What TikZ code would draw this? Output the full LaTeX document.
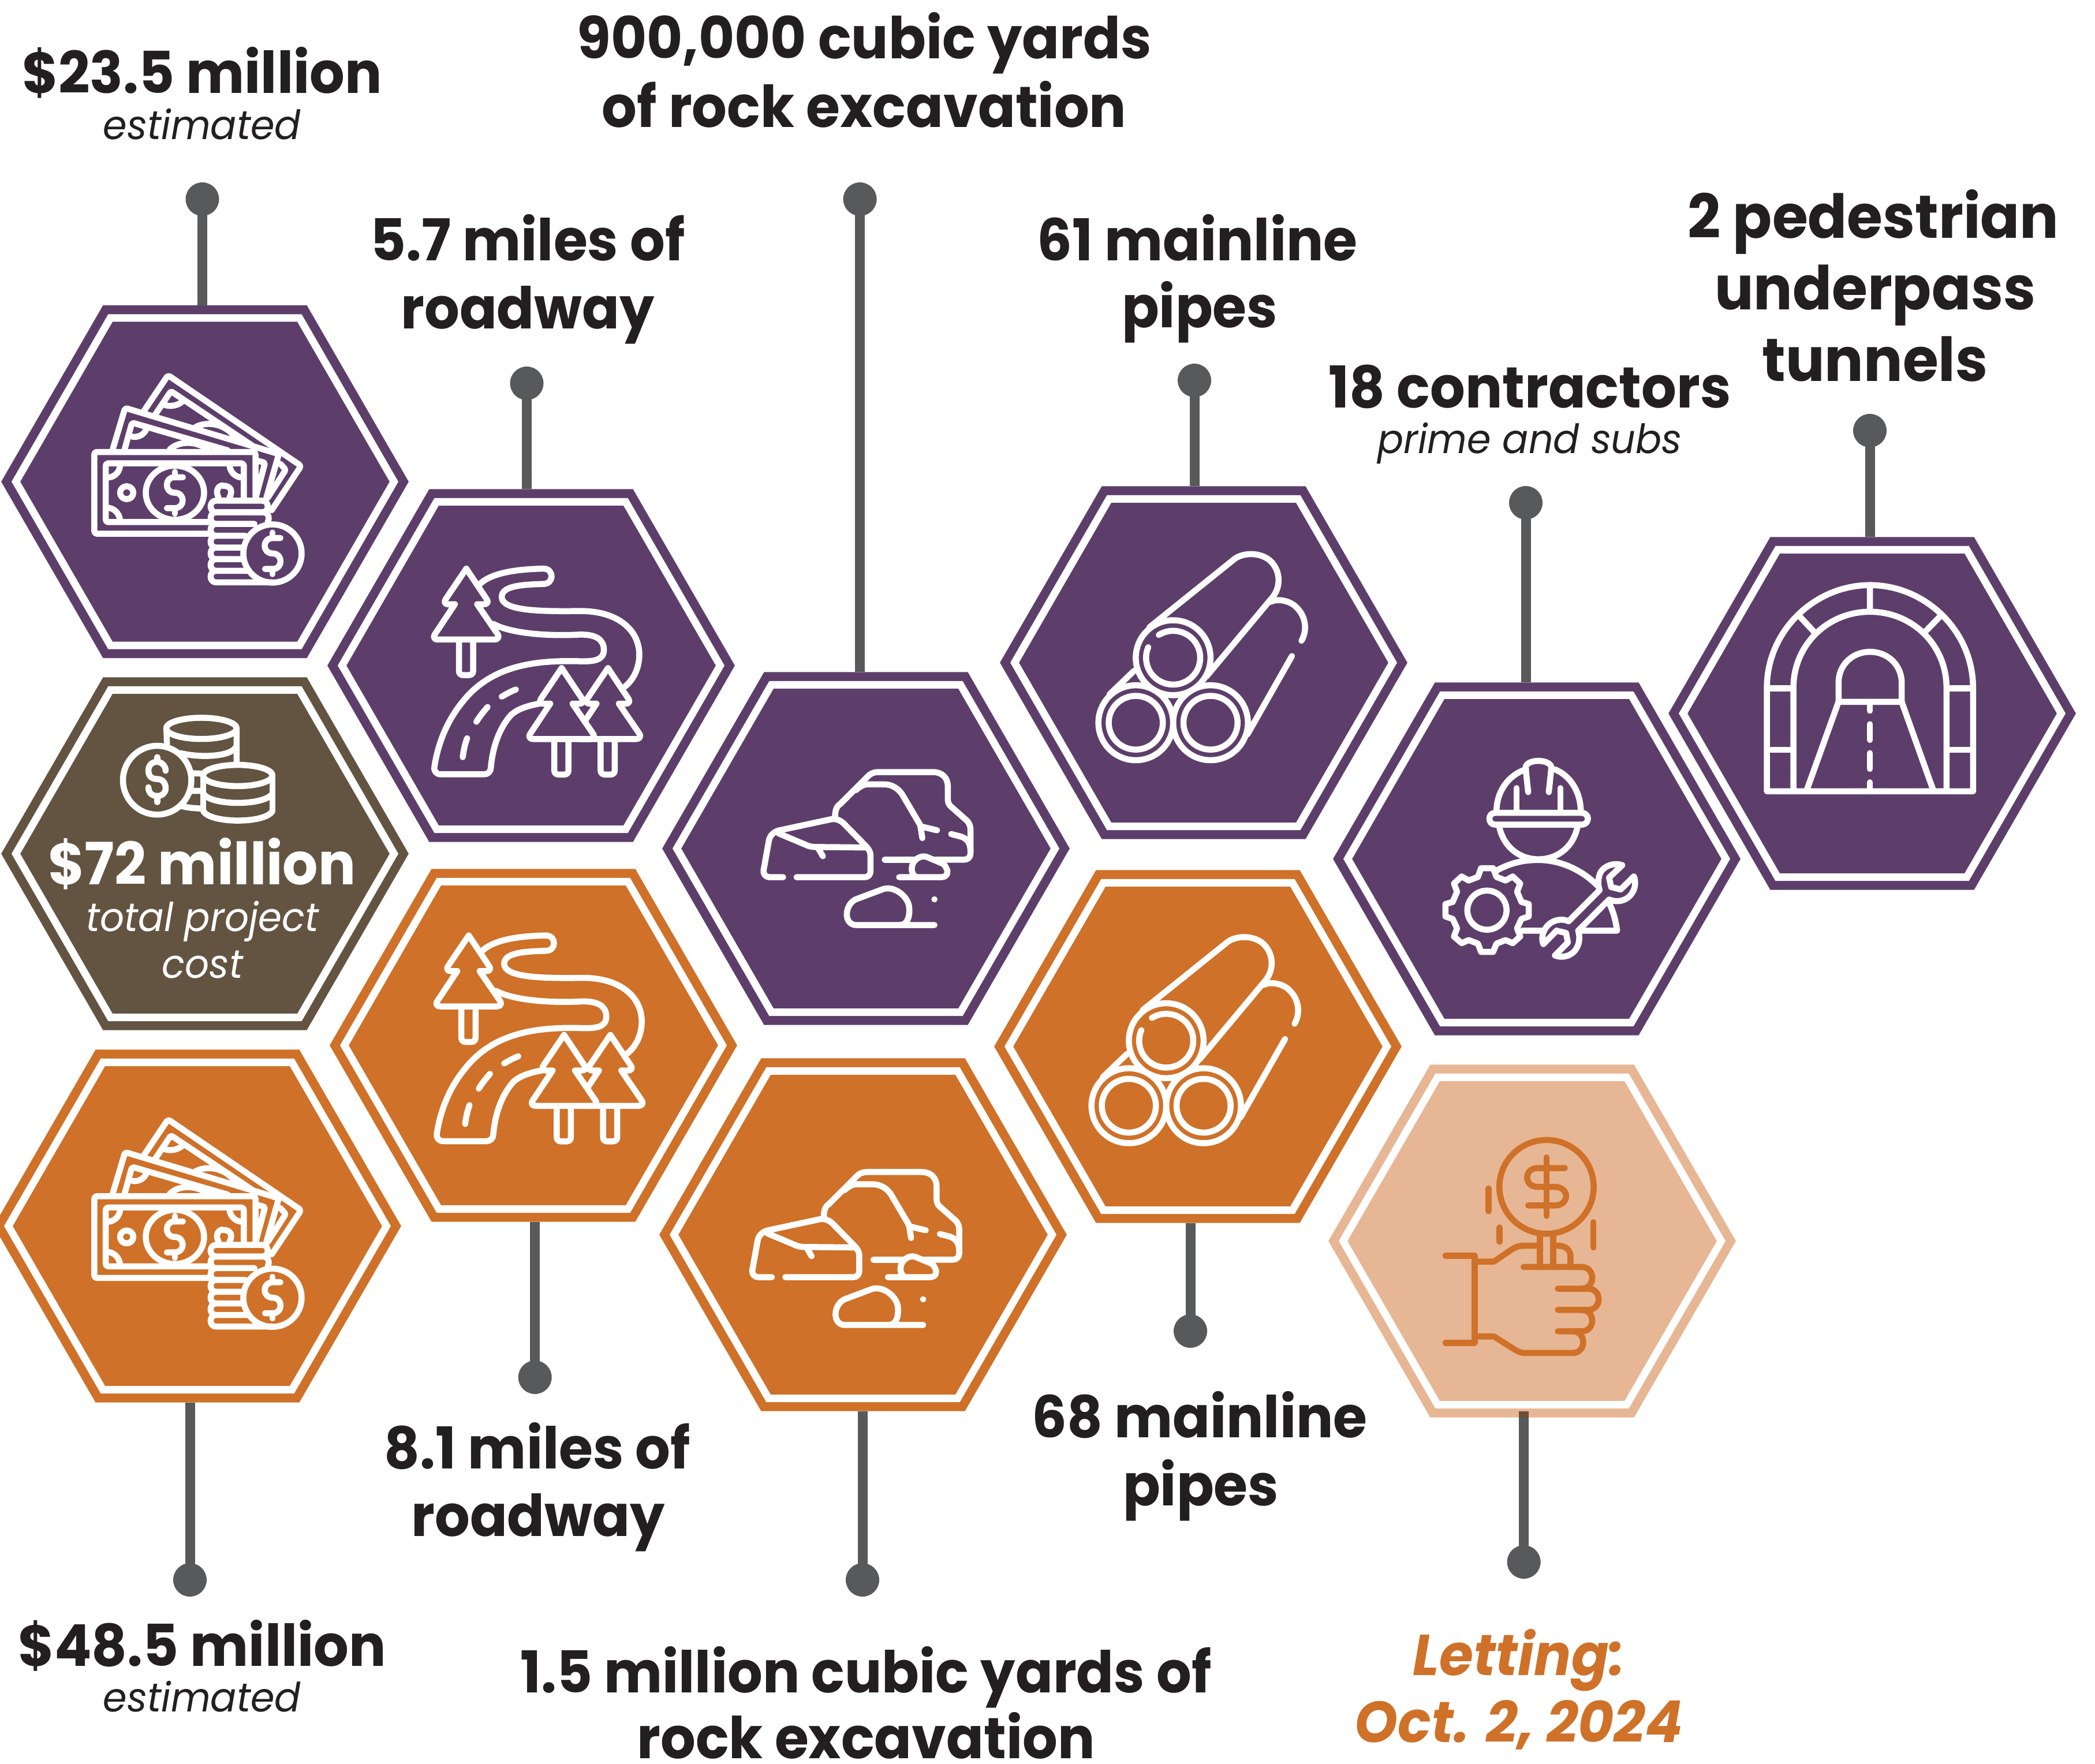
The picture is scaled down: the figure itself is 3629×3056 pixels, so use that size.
\documentclass[tikz,border=0pt]{standalone}
\usepackage{fontspec}
\setmainfont{Poppins}[FakeStretch=0.955]
\usetikzlibrary{shapes.geometric}
\definecolor{purp}{HTML}{5D3E6B}
\definecolor{orng}{HTML}{CF7128}
\definecolor{brwn}{HTML}{635442}
\definecolor{lite}{HTML}{E7B694}
\definecolor{gry}{HTML}{58595B}
\definecolor{ink}{HTML}{231F20}
\tikzset{
 hexa/.style={regular polygon,regular polygon sides=6,minimum size=655pt,inner sep=0pt,outer sep=0pt,
   draw=#1,fill=#1,line width=15.5pt,double=white,double distance=13pt},
 dotn/.style={circle,fill=gry,minimum size=58pt,inner sep=0pt,outer sep=0pt},
 conn/.style={draw=gry,line width=17pt,shorten >=22pt},
 big/.style={font=\fontsize{100}{120}\selectfont\bfseries,text=ink,anchor=base,inner sep=0pt},
 bigf/.style={font=\fontsize{105}{120}\selectfont\bfseries,text=ink,anchor=base,inner sep=0pt},
 bigw/.style={font=\fontsize{101}{120}\selectfont\bfseries,text=white,anchor=base,inner sep=0pt},
 sub/.style={font=\fontsize{70}{80}\selectfont\itshape,text=ink,anchor=base,inner sep=0pt},
 subw/.style={font=\fontsize{69}{80}\selectfont\itshape,text=white,anchor=base,inner sep=0pt},
 let/.style={font=\fontsize{100}{120}\selectfont\bfseries\itshape,text=orng,anchor=base,inner sep=0pt},
 ico/.style={line width=10.5pt,line cap=round,line join=round},
}
\newcommand\iconmoney{%
 \draw[ico,rounded corners=4pt] (790,951)--(356,951)--(356,634)--(964,634)--(964,815);
 \draw[ico,rounded corners=4pt] (790,906)--(399,906)--(399,678)--(920,678)--(920,815);
 \draw[ico] (660,792) ellipse [x radius=110,y radius=105];
 \draw[ico] (690,732)--(658,732) .. controls (620,732) and (620,792) .. (658,792) .. controls (700,792) and (700,852) .. (658,852)--(630,852);
 \draw[ico] (660,711)--(660,732) (660,852)--(660,873);
 \draw[ico] (453,688) .. controls (450,715) and (430,733) .. (405,733);
 \draw[ico] (405,850) .. controls (430,852) and (450,870) .. (453,900);
 \draw[ico] (866,688) .. controls (870,715) and (890,733) .. (915,733);
 \draw[ico] (478,792) ellipse [x radius=25,y radius=25];
 \draw[ico] (825,812) .. controls (805,770) and (840,760) .. (842,765) .. controls (875,765) and (878,790) .. (865,812);
 \draw[ico,rounded corners=4pt] (425,625)--(472,463)--(1052,642)--(1005,812);
 \draw[ico,rounded corners=4pt] (470,625)--(498,520)--(860,628);
 \draw[ico,rounded corners=3pt] (972,668)--(1000,676)--(965,810);
 \draw[ico] (500,575) .. controls (525,578) and (545,565) .. (552,545);
 \draw[ico] (640,625) .. controls (675,590) and (740,590) .. (785,625);
 \draw[ico,rounded corners=4pt] (543,475)--(634,336)--(1136,688)--(1025,860);
 \draw[ico,rounded corners=3pt] (585,490)--(645,398)--(960,615);
 \draw[ico,rounded corners=3pt] (1058,680)--(1078,703)--(1010,812);
 \draw[ico] (618,450) .. controls (640,460) and (670,455) .. (690,437);
 \draw[ico] (738,537) .. controls (790,510) and (860,530) .. (892,585);
 \draw[ico] (990,823)--(815,823) .. controls (788,823) and (788,868) .. (815,868)--(990,868) .. controls (1017,868) and (1017,823) .. (990,823);
 \draw[ico] (990,868)--(815,868) .. controls (788,868) and (788,913) .. (815,913)--(960,913);
 \draw[ico] (990,868) .. controls (1017,868) and (1017,895) .. (1010,905);
 \draw[ico] (815,913) .. controls (788,913) and (788,959) .. (815,959)--(925,959);
 \draw[ico] (815,959) .. controls (788,959) and (788,1005) .. (815,1005)--(912,1005);
 \draw[ico] (815,1005) .. controls (788,1005) and (788,1050) .. (815,1050)--(915,1050);
 \draw[ico] (815,1050) .. controls (788,1050) and (788,1095) .. (815,1095)--(940,1095);
 \draw[ico] (815,1095) .. controls (788,1095) and (788,1140) .. (815,1140)--(1028,1140);
 \draw[ico] (1028,1028) ellipse [x radius=110,y radius=113];
 \draw[ico] (1058,968)--(1030,968) .. controls (988,968) and (988,1028) .. (1030,1028) .. controls (1068,1028) and (1068,1088) .. (1030,1088)--(1000,1088);
 \draw[ico] (1028,947)--(1028,968) (1028,1088)--(1028,1108);
}
\newcommand\treeshape[1]{%
 \begin{scope}[shift={#1}]
 \draw[ico,fill=\ib] (498,690)--(498,815) .. controls (498,826) and (505,832) .. (515,832)--(533,832) .. controls (543,832) and (550,826) .. (550,815)--(550,690);
 \draw[ico,fill=\ib] (525,380)--(600,510) .. controls (608,525) and (600,531) .. (590,531)--(565,531)--(640,658) .. controls (648,672) and (640,681) .. (628,681)--(420,681) .. controls (408,681) and (402,672) .. (410,658)--(483,531)--(458,531) .. controls (448,531) and (442,525) .. (449,510)--cycle;
 \end{scope}}
\newcommand\iconroad{%
 \draw[ico] (575,445) .. controls (620,395) and (720,382) .. (808,380) .. controls (848,380) and (848,445) .. (808,445) .. controls (740,448) and (655,450) .. (655,500) .. controls (655,560) and (800,562) .. (940,560) .. controls (1080,558) and (1160,640) .. (1160,745) .. controls (1160,800) and (1140,850) .. (1108,880);
 \draw[ico] (625,615) .. controls (680,650) and (800,668) .. (940,660) .. controls (1000,658) and (1030,680) .. (1030,725) .. controls (1030,770) and (990,775) .. (940,773) .. controls (780,768) and (620,790) .. (515,940) .. controls (450,1030) and (420,1130) .. (408,1220) .. controls (405,1240) and (415,1253) .. (432,1253)--(590,1253) .. controls (605,1253) and (615,1240) .. (615,1225) .. controls (622,1130) and (650,1050) .. (690,1000) .. controls (720,970) and (760,960) .. (805,950);
 \draw[ico] (655,923) .. controls (672,912) and (690,900) .. (707,893);
 \draw[ico] (562,1030) .. controls (575,1005) and (590,985) .. (603,967);
 \draw[ico] (512,1180) .. controls (515,1150) and (520,1125) .. (528,1100);
 \treeshape{(0,0)}\treeshape{(520,422)}\treeshape{(350,422)}
}
\newcommand\iconrocks{%
 \draw[ico] (620,630) .. controls (618,600) and (625,580) .. (640,570)--(745,455) .. controls (755,442) and (770,435) .. (785,435)--(1000,435) .. controls (1035,435) and (1057,460) .. (1057,495)--(1057,550) .. controls (1057,565) and (1062,575) .. (1070,582)--(1130,640) .. controls (1140,650) and (1145,665) .. (1145,680)--(1145,780) .. controls (1145,795) and (1135,807) .. (1120,807)--(1005,807);
 \draw[ico] (700,512) .. controls (715,497) and (730,487) .. (745,487)--(810,487) .. controls (840,487) and (865,505) .. (880,530)--(950,660)--(958,715);
 \draw[ico] (950,665)--(1015,682) (1070,698)--(1105,708) .. controls (1130,715) and (1145,735) .. (1145,770);
 \draw[ico] (812,807)--(930,807);
 \draw[ico] (418,881)--(365,881) .. controls (350,881) and (340,868) .. (342,852)--(362,730) .. controls (365,705) and (380,690) .. (400,683)--(605,635) .. controls (625,632) and (640,640) .. (652,652)--(740,750) .. controls (752,765) and (757,775) .. (757,790)--(757,855) .. controls (757,870) and (748,881) .. (735,881)--(470,881);
 \draw[ico] (400,695)--(515,748) .. controls (530,753) and (540,753) .. (555,753)--(740,755) (555,760)--(572,792);
 \draw[ico] (868,881)--(1030,881) .. controls (1055,881) and (1060,860) .. (1052,845) .. controls (1048,835) and (1045,830) .. (1040,825)--(975,795) .. controls (950,785) and (917,810) .. (917,845) .. controls (917,865) and (925,880) .. (940,881);
 \draw[ico] (1005,1084)--(700,1084) .. controls (680,1084) and (665,1065) .. (665,1040) .. controls (665,1010) and (680,985) .. (700,975)--(805,932) .. controls (850,915) and (905,965) .. (907,1010) .. controls (910,1050) and (900,1084) .. (870,1084);
 \fill[white] (1005,975) ellipse [x radius=12,y radius=13];
}
\newcommand\iconpipes{%
 \draw[ico] (540,580)--(870,290) .. controls (900,265) and (960,260) .. (1000,290) .. controls (1050,330) and (1055,410) .. (1012,460)--(760,790);
 \draw[ico] (385,865)--(480,765);
 \draw[ico] (1010,472) .. controls (1040,455) and (1090,470) .. (1110,495) .. controls (1145,530) and (1155,590) .. (1130,637);
 \draw[ico] (1093,702)--(920,1035);
 \draw[ico] (632,709) ellipse [x radius=145,y radius=159];
 \draw[ico] (487,985) ellipse [x radius=145,y radius=159];
 \draw[ico] (777,985) ellipse [x radius=145,y radius=159];
 \draw[ico] (487,985) ellipse [x radius=105,y radius=114];
 \draw[ico] (777,985) ellipse [x radius=105,y radius=114];
 \draw[ico] plot[domain=238:563,samples=50,smooth] ({632+105*cos(\x)},{709+114*sin(\x)});
}
\newcommand\iconworker{%
 \draw[ico] (565,505) .. controls (565,420) and (610,350) .. (680,325) (790,325) .. controls (850,350) and (892,420) .. (892,505);
 \draw[ico] (688,422)--(678,318) .. controls (680,280) and (775,280) .. (778,318)--(768,422);
 \draw[ico] (643,405)--(643,505) (813,405)--(813,505);
 \draw[ico] (560,510)--(895,510) .. controls (928,510) and (928,560) .. (895,560)--(560,560) .. controls (530,560) and (530,510) .. (560,510)--cycle;
 \draw[ico] (575,565) .. controls (590,650) and (650,707) .. (728,707) .. controls (806,707) and (866,650) .. (880,565);
 \draw[ico] (565,755) .. controls (620,722) and (670,710) .. (728,710) .. controls (810,710) and (895,750) .. (958,820);
 \draw[ico] (665,1010)--(745,1010) (895,1010)--(1033,1010) .. controls (1028,970) and (1020,935) .. (1005,900);
 \draw[ico] (528,923) ellipse [x radius=76,y radius=83];
 \draw[ico] (505,745)--(552,745)--(565,782)--(600,797)--(628,780)--(657,810)--(645,845)--(662,888)--(690,897)--(690,950)--(662,960)--(645,1000)--(657,1035)--(628,1063)--(600,1050)--(565,1065)--(552,1100)--(505,1100)--(493,1065)--(457,1050)--(430,1063)--(400,1035)--(412,1000)--(395,960)--(367,950)--(367,897)--(395,888)--(412,845)--(400,810)--(430,780)--(457,797)--(493,782)--cycle;
 \draw[ico] (845,970)--(965,838) .. controls (958,815) and (958,785) .. (970,760) .. controls (985,735) and (1020,720) .. (1053,732)--(1002,785)--(1010,825)--(1047,835)--(1098,780) .. controls (1103,790) and (1105,810) .. (1100,830) .. controls (1085,880) and (1040,895) .. (1002,878)--(882,1010) .. controls (888,1030) and (888,1055) .. (880,1075) .. controls (865,1115) and (825,1130) .. (792,1115)--(842,1060)--(835,1020)--(798,1010)--(747,1067) .. controls (742,1055) and (740,1030) .. (750,1010) .. controls (770,965) and (815,955) .. (845,970)--cycle;
}
\newcommand\icontunnel{%
 \draw[ico] (315,1080)--(315,640) .. controls (315,400) and (500,205) .. (715,205) .. controls (930,205) and (1115,400) .. (1115,640)--(1115,1080)--cycle;
 \draw[ico] (418,1080)--(418,640) .. controls (418,460) and (550,318) .. (715,318) .. controls (880,318) and (1012,460) .. (1012,640)--(1012,1080);
 \draw[ico] (715,205)--(715,318) (440,335)--(497,402) (985,340)--(930,402);
 \draw[ico] (315,643)--(418,643) (315,904)--(418,904) (1012,643)--(1115,643) (1012,904)--(1115,904);
 \draw[ico] (593,700)--(593,620) .. controls (593,540) and (650,488) .. (715,488) .. controls (780,488) and (838,540) .. (838,620)--(838,700)--cycle;
 \draw[ico] (593,700)--(468,1080) (838,700)--(962,1080);
 \draw[ico] (715,700)--(715,738) (715,795)--(715,862) (715,918)--(715,985) (715,1042)--(715,1080);
}
\newcommand\iconhand{%
 \draw[ico] (804,505) ellipse [x radius=183,y radius=199];
 \draw[ico] (875,425)--(770,425) .. controls (715,425) and (715,505) .. (770,505)--(835,505) .. controls (895,505) and (895,584) .. (835,584)--(733,584);
 \draw[ico] (804,380)--(804,628);
 \draw[ico] (579,512)--(579,608) (622,677)--(622,738) (986,655)--(986,762);
 \draw[ico] (778,710)--(778,845) (830,710)--(830,845);
 \draw[ico] (770,755)--(715,755) .. controls (695,755) and (685,760) .. (670,770)--(600,822)--(525,822);
 \draw[ico] (830,755)--(850,755) .. controls (880,755) and (897,775) .. (897,800)--(897,845);
 \draw[ico] (412,797)--(525,797)--(525,1167)--(412,1167);
 \draw[ico] (525,1140)--(600,1140)--(680,1195) .. controls (695,1205) and (705,1210) .. (720,1210)--(905,1210) .. controls (960,1210) and (960,1118) .. (905,1118)--(848,1118);
 \draw[ico] (715,845)--(940,845) .. controls (995,845) and (995,937) .. (940,937)--(848,937);
 \draw[ico] (940,937)--(965,937) .. controls (1020,937) and (1020,1027) .. (965,1027)--(848,1027);
 \draw[ico] (940,1027) .. controls (995,1027) and (995,1118) .. (940,1118)--(905,1118);
}
\newcommand\iconcoins{%
 \draw[ico] (760,225) ellipse [x radius=133,y radius=45];
 \draw[ico] (628,225)--(630,295) (893,225)--(893,372);
 \draw[ico] (680,330) .. controls (760,352) and (880,345) .. (893,298);
 \draw[ico] (715,415)--(765,417) (722,490)--(760,490);
 \draw[ico] (685,555) .. controls (710,562) and (740,565) .. (762,565);
 \draw[ico] (897,425) ellipse [x radius=131,y radius=45];
 \draw[ico] (767,425)--(767,575) (1028,425)--(1028,575);
 \draw[ico] (767,500) .. controls (790,555) and (1005,555) .. (1028,500);
 \draw[ico] (767,575) .. controls (790,630) and (1005,630) .. (1028,575);
 \draw[ico,fill=\ib] (593,445) ellipse [x radius=129,y radius=146];
 \draw[ico] (625,405) .. controls (625,380) and (606,367) .. (593,367) .. controls (570,367) and (560,385) .. (560,405) .. controls (560,430) and (575,440) .. (593,440) .. controls (612,440) and (625,455) .. (625,480) .. controls (625,500) and (610,512) .. (593,512) .. controls (575,512) and (560,500) .. (560,475);
 \draw[ico] (593,347)--(593,367) (593,512)--(593,538);
}
\begin{document}
\begin{tikzpicture}[x=1pt,y=-1pt]
\useasboundingbox (0,0) rectangle (3629,3056);
\fill[white] (0,0) rectangle (3629,3056);
% hexagons
\node[hexa=purp] (hA) at (355,834.5) {};
\node[hexa=purp] (hB) at (920,1153) {};
\node[hexa=purp] (hC) at (1500,1470) {};
\node[hexa=purp] (hD) at (2085,1148) {};
\node[hexa=purp] (hE) at (2662,1488) {};
\node[hexa=purp] (hF) at (3243,1236) {};
\node[hexa=brwn] (hG) at (355,1479) {};
\node[hexa=orng] (hH) at (342,2124) {};
\node[hexa=orng] (hI) at (924,1811) {};
\node[hexa=orng] (hJ) at (1495,2139) {};
\node[hexa=orng] (hK) at (2075,1813) {};
\node[hexa=lite] (hL) at (2654,2150) {};
% dots
\node[dotn] (dA) at (350.5,345) {};
\node[dotn] (dB) at (912.5,664) {};
\node[dotn] (dC) at (1489.6,345) {};
\node[dotn] (dD) at (2069,659) {};
\node[dotn] (dE) at (2643,871) {};
\node[dotn] (dF) at (3239,746) {};
\node[dotn] (dH) at (329,2737) {};
\node[dotn] (dI) at (926.7,2386) {};
\node[dotn] (dJ) at (1494,2737) {};
\node[dotn] (dK) at (2062,2306) {};
\node[dotn] (dL) at (2639.6,2706) {};
% connectors
\draw[conn] (dA.center) -- (dA.center |- hA.north);
\draw[conn] (dB.center) -- (dB.center |- hB.north);
\draw[conn] (dC.center) -- (dC.center |- hC.north);
\draw[conn] (dD.center) -- (dD.center |- hD.north);
\draw[conn] (dE.center) -- (dE.center |- hE.north);
\draw[conn] (dF.center) -- (dF.center |- hF.north);
\draw[conn] (dH.center) -- (dH.center |- hH.south);
\draw[conn] (dI.center) -- (dI.center |- hI.south);
\draw[conn] (dJ.center) -- (dJ.center |- hJ.south);
\draw[conn] (dK.center) -- (dK.center |- hK.south);
\draw[conn] (dL.center) -- (dL.center |- hL.south);
\fill[color=gry!60!orng!80!black] (2631.1,2445) rectangle (2648.1,2456);
% icons
\def\ib{purp}
\begin{scope}[shift={(0,500)},xscale=.4591,yscale=.4464,white]\iconmoney\end{scope}
\begin{scope}[shift={(560,830)},xscale=.4719,yscale=.4082,white]\iconroad\end{scope}
\begin{scope}[shift={(1170,1160)},xscale=.4464,yscale=.4082,white]\iconrocks\end{scope}
\begin{scope}[shift={(1750,850)},xscale=.4464,yscale=.4082,white]\iconpipes\end{scope}
\begin{scope}[shift={(2340,1200)},xscale=.4464,yscale=.4082,white]\iconworker\end{scope}
\begin{scope}[shift={(2920,930)},xscale=.4464,yscale=.4082,white]\icontunnel\end{scope}
\def\ib{brwn}
\begin{scope}[shift={(0,1170)},xscale=.4591,yscale=.4082,white]\iconcoins\end{scope}
\def\ib{orng}
\begin{scope}[shift={(0,1789.3)},xscale=.4591,yscale=.4464,white]\iconmoney\end{scope}
\begin{scope}[shift={(564.2,1465.5)},xscale=.4719,yscale=.4082,white]\iconroad\end{scope}
\begin{scope}[shift={(1150.5,1852.9)},xscale=.4464,yscale=.4082,white]\iconrocks\end{scope}
\begin{scope}[shift={(1738,1513.5)},xscale=.4464,yscale=.4082,white]\iconpipes\end{scope}
\def\ib{lite}
\begin{scope}[shift={(2320,1850)},xscale=.4464,yscale=.4082,orng]\iconhand\end{scope}
% labels
\node[big] (tA) at (350,162) {\$23.5 million};
\node[sub] (tAa) at (350,241) {estimated};
\node[big] (tB) at (914,451) {5.7 miles of};
\node[big] (tBa) at (914,569) {roadway};
\node[big] (tC) at (1497,102) {900,000 cubic yards};
\node[big] (tCa) at (1497,220) {of rock excavation};
\node[big] (tD) at (2074,451) {61 mainline};
\node[big] (tDa) at (2078,567) {pipes};
\node[bigf] (tF) at (3245,412) {2 pedestrian};
\node[bigf] (tFa) at (3248,536) {underpass};
\node[bigf] (tFb) at (3248,660) {tunnels};
\node[big] (tE) at (2650,706) {18 contractors};
\node[sub] (tEa) at (2650,785) {prime and subs};
\node[bigw] (tG) at (350,1532) {\$72 million};
\node[subw] (tGa) at (351,1613) {total project};
\node[subw] (tGb) at (351,1694.5) {cost};
\node[big] (tI) at (931,2544) {8.1 miles of};
\node[big] (tIa) at (932,2661) {roadway};
\node[big] (tH) at (350,2886) {\$48.5 million};
\node[sub] (tHa) at (350,2965) {estimated};
\node[big] (tJ) at (1500,2932) {1.5 million cubic yards of};
\node[big] (tJa) at (1500,3046) {rock excavation};
\node[big] (tK) at (2078,2490) {68 mainline};
\node[big] (tKa) at (2080,2608) {pipes};
\node[let] (tL) at (2631,2902) {Letting:};
\node[let] (tLa) at (2631,3018) {Oct. 2, 2024};
\end{tikzpicture}
\end{document}
